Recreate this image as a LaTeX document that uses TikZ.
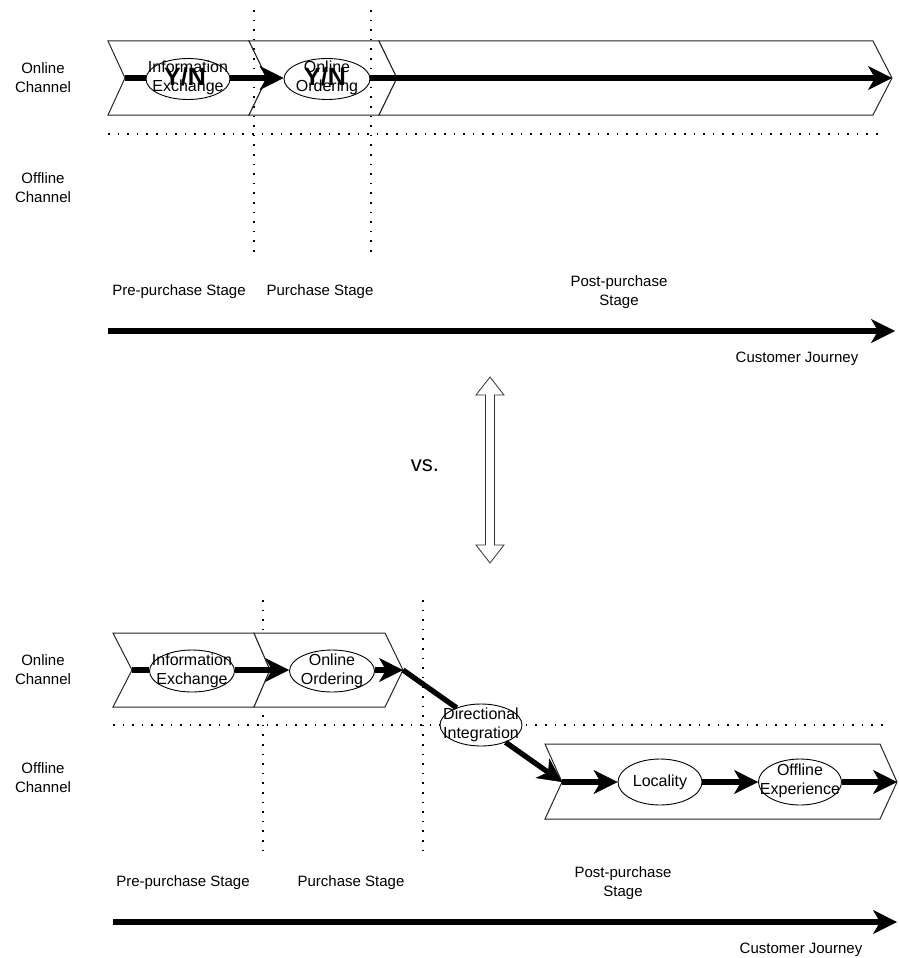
\documentclass[tikz,border=0pt]{standalone}
\usepackage{fontspec}
\setmainfont{Liberation Sans}
\usetikzlibrary{arrows.meta,shapes.geometric}
\begin{document}
\begin{tikzpicture}[x=1pt,y=-1pt,
 lbl/.style={font=\fontsize{15}{19}\selectfont, align=center, inner sep=0pt},
 ell/.style={ellipse, draw, line width=0.9pt, fill=white, minimum width=84pt, minimum height=41pt, inner sep=0pt},
 etext/.style={font=\fontsize{16}{19.5}\selectfont, align=center, inner sep=0pt},
 flow/.style={line width=5.3pt},
 flowarrow/.style={line width=5.3pt, -{Stealth[length=24pt,width=24pt,inset=7pt,line width=0.5pt]}},
 chev/.style={draw=black!85, line width=1pt, fill=white, line join=miter},
 sep/.style={line width=1.6pt, dash pattern=on 1.6pt off 8pt},
 yn/.style={font=\bfseries\fontsize{25}{25}\selectfont, inner sep=0pt},
 dbl/.style={draw=black!80, line width=0.8pt, fill=white}
]
\useasboundingbox (0,0) rectangle (898,958);

%================ TOP PART ================
% chevrons
\draw[chev] (108,41) -- (249,41) -- (267,78) -- (249,115) -- (108,115) -- (125,78) -- cycle;
\draw[chev] (249,41) -- (379,41) -- (397,78) -- (379,115) -- (249,115) -- (267,78) -- cycle;
\draw[chev] (379,41) -- (873,41) -- (892,78) -- (873,115) -- (379,115) -- (397,78) -- cycle;
\coordinate (tn1) at (125,78);
\coordinate (tend) at (892,78);

% separators
\draw[sep] (254,10) -- (254,255);
\draw[sep] (371,10) -- (371,255);
\draw[sep] (108,134) -- (883,134);

% flow
\node[ell] (tie) at (188,79) {};
\node[ell, minimum width=86pt] (too) at (327,79) {};
\draw[flow] (tn1) -- (tn1 -| tie.west);
\draw[flowarrow] (tn1 -| tie.east) -- (tn1 -| too.west);
\draw[flowarrow] (tn1 -| too.east) -- (tend);
\node[etext] (tiet) at (188,78) {Information\\Exchange};
\node[etext] (toot) at (327,78) {Online\\Ordering};
\node[yn] (yn1) at (185,77) {Y/N};
\node[yn] (yn2) at (325,77) {Y/N};

% labels
\node[lbl] (ton) at (43,78) {Online\\Channel};
\node[lbl] (tof) at (43,188) {Offline\\Channel};
\node[lbl] (tpre) at (179,292) {Pre-purchase Stage};
\node[lbl] (tpur) at (320,292) {Purchase Stage};
\node[lbl] (tpost) at (619,292) {Post-purchase\\Stage};
\coordinate (tj1) at (108,331);
\coordinate (tj2) at (895,331);
\draw[flowarrow] (tj1) -- (tj2);
\node[lbl] (tcj) at (797,359) {Customer Journey};

%================ MIDDLE ================
\node[font=\fontsize{22}{22}\selectfont, inner sep=0pt] (vs) at (425,466) {vs.};
\draw[dbl] (490,377) -- (504,395) -- (494.5,395) -- (494.5,545) -- (504,545) -- (490,563)
  -- (476,545) -- (485.5,545) -- (485.5,395) -- (476,395) -- cycle;

%================ BOTTOM PART ================
% separators
\draw[sep] (263,600) -- (263,850);
\draw[sep] (423,600) -- (423,850);
\draw[sep] (113,725) -- (885,725);

% chevrons
\draw[chev] (113,633) -- (254,633) -- (270,670) -- (254,707) -- (113,707) -- (132,670) -- cycle;
\draw[chev] (254,633) -- (385,633) -- (403,670) -- (385,707) -- (254,707) -- (270,670) -- cycle;
\draw[chev] (545,744) -- (880,744) -- (897,782) -- (880,819) -- (545,819) -- (562,782) -- cycle;
\coordinate (bn1) at (132,670);
\coordinate (bp2) at (403,670);
\coordinate (bn3) at (562,782);
\coordinate (bend) at (897,782);

% flow
\node[ell, minimum width=85pt, minimum height=42pt] (bie) at (192,671) {};
\node[ell, minimum width=85pt, minimum height=42pt] (boo) at (332,671) {};
\node[ell, minimum width=82pt, minimum height=42pt] (bdi) at (481,725) {};
\node[ell, minimum width=84pt, minimum height=46pt] (bloc) at (660,782) {};
\node[ell, minimum width=83pt, minimum height=46pt] (boe) at (800,782) {};
\draw[flow] (bn1) -- (bn1 -| bie.west);
\draw[flowarrow] (bn1 -| bie.east) -- (bn1 -| boo.west);
\draw[flowarrow] (bn1 -| boo.east) -- (bp2);
\draw[flow] (bp2) -- (bdi);
\draw[flowarrow] (bdi) -- (bn3);
\draw[flowarrow] (bn3) -- (bloc.west);
\draw[flowarrow] (bloc.east) -- (boe.west);
\draw[flowarrow] (boe.east) -- (bend);
\node[etext] (biet) at (192,671) {Information\\Exchange};
\node[etext] (boot) at (332,671) {Online\\Ordering};
\node[etext] (bdit) at (481,725) {Directional\\Integration};
\node[etext] (bloct) at (660,782) {Locality};
\node[etext] (boet) at (800,781) {Offline\\Experience};

% labels
\node[lbl] (bon) at (43,670) {Online\\Channel};
\node[lbl] (bof) at (43,778) {Offline\\Channel};
\node[lbl] (bpre) at (183,883) {Pre-purchase Stage};
\node[lbl] (bpur) at (351,883) {Purchase Stage};
\node[lbl] (bpost) at (623,883) {Post-purchase\\Stage};
\coordinate (bj1) at (113,922);
\coordinate (bj2) at (897,922);
\draw[flowarrow] (bj1) -- (bj2);
\node[lbl] (bcj) at (801,950) {Customer Journey};
\end{tikzpicture}
\end{document}
